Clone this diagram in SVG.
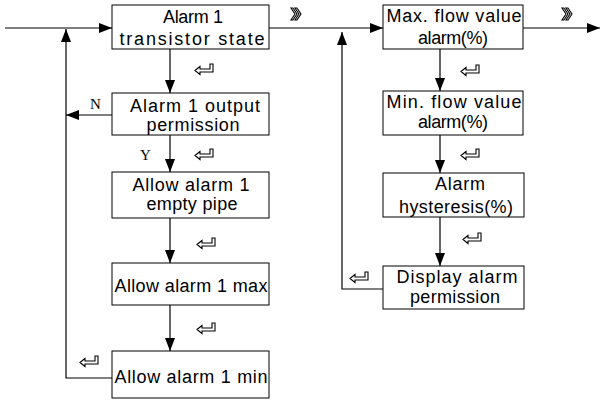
<svg xmlns="http://www.w3.org/2000/svg" width="601" height="400" viewBox="0 0 601 400">
<style>
.box{fill:#fff;stroke:#000;stroke-width:1}
.t{font-family:"Liberation Sans",Arial,sans-serif;font-size:18px;fill:#000;text-anchor:middle}
.yn{font-family:"Liberation Serif","Times New Roman",serif;font-size:15px;fill:#000}
.ln{fill:none;stroke:#000;stroke-width:1.2}
.ic{fill:#fff;stroke:#000;stroke-width:1.1}
</style>
<defs>
<marker id="ah" markerUnits="userSpaceOnUse" markerWidth="14" markerHeight="10" refX="13" refY="5" orient="auto">
<path d="M0,0 L13,5 L0,10 Z" fill="#000"/>
</marker>
<path id="ret" d="M0,6.5 L5,2.5 L5,5 L15,5 L15,0 L18,0 L18,8 L5,8 L5,10.5 Z"/>
<path id="dbl" d="M0,0 L2,0 L6,6 L2,12 L0,12 L4,6 Z M4,0 L6,0 L10,6 L6,12 L4,12 L8,6 Z"/>
</defs>
<g id="connectors">
<path class="ln" d="M5,28 L112,28" marker-end="url(#ah)"/>
<path class="ln" d="M269,28 L383,28" marker-end="url(#ah)"/>
<path class="ln" d="M523,28 L600,28" marker-end="url(#ah)"/>
<path class="ln" d="M170,49 L170,93" marker-end="url(#ah)"/>
<path class="ln" d="M170,135 L170,172" marker-end="url(#ah)"/>
<path class="ln" d="M170,218 L170,263" marker-end="url(#ah)"/>
<path class="ln" d="M170,305 L170,351" marker-end="url(#ah)"/>
<path class="ln" d="M112,115 L66,115" marker-end="url(#ah)"/>
<path class="ln" d="M112,378 L66,378 L66,29" marker-end="url(#ah)"/>
<path class="ln" d="M440,49 L440,91" marker-end="url(#ah)"/>
<path class="ln" d="M440,135 L440,173" marker-end="url(#ah)"/>
<path class="ln" d="M440,217 L440,266" marker-end="url(#ah)"/>
<path class="ln" d="M383,289 L342,289 L342,32" marker-end="url(#ah)"/>
<text class="yn" x="90" y="109">N</text>
<text class="yn" x="140" y="160">Y</text>
<use href="#dbl" class="ic" x="291" y="8"/>
<use href="#dbl" class="ic" x="562" y="8"/>
<use href="#ret" class="ic" x="195" y="64"/>
<use href="#ret" class="ic" x="195" y="149"/>
<use href="#ret" class="ic" x="197" y="238"/>
<use href="#ret" class="ic" x="197" y="323"/>
<use href="#ret" class="ic" x="80" y="356"/>
<use href="#ret" class="ic" x="461" y="65"/>
<use href="#ret" class="ic" x="461" y="149"/>
<use href="#ret" class="ic" x="463" y="233"/>
<use href="#ret" class="ic" x="350" y="272"/>
</g>
<g id="n1"><rect class="box" x="112" y="5" width="157" height="44"/>
<text class="t" x="193" y="23" textLength="60" lengthAdjust="spacing">Alarm 1</text>
<text class="t" x="192" y="45" textLength="145" lengthAdjust="spacing">transistor state</text></g>
<g id="n2"><rect class="box" x="112" y="93" width="157" height="42"/>
<text class="t" x="195" y="112" textLength="130" lengthAdjust="spacing">Alarm 1 output</text>
<text class="t" x="193" y="131" textLength="93" lengthAdjust="spacing">permission</text></g>
<g id="n3"><rect class="box" x="112" y="172" width="157" height="46"/>
<text class="t" x="191" y="191" textLength="117" lengthAdjust="spacing">Allow alarm 1</text>
<text class="t" x="192" y="210" textLength="91" lengthAdjust="spacing">empty pipe</text></g>
<g id="n4"><rect class="box" x="112" y="263" width="157" height="42"/>
<text class="t" x="191" y="292" textLength="153" lengthAdjust="spacing">Allow alarm 1 max</text></g>
<g id="n5"><rect class="box" x="112" y="351" width="157" height="47"/>
<text class="t" x="191" y="383" textLength="153" lengthAdjust="spacing">Allow alarm 1 min</text></g>
<g id="n6"><rect class="box" x="383" y="5" width="140" height="44"/>
<text class="t" x="454" y="22" textLength="135" lengthAdjust="spacing">Max. flow value</text>
<text class="t" x="453" y="44" textLength="70" lengthAdjust="spacing">alarm(%)</text></g>
<g id="n7"><rect class="box" x="383" y="91" width="140" height="44"/>
<text class="t" x="454" y="108" textLength="135" lengthAdjust="spacing">Min. flow value</text>
<text class="t" x="453" y="128" textLength="70" lengthAdjust="spacing">alarm(%)</text></g>
<g id="n8"><rect class="box" x="383" y="173" width="141" height="44"/>
<text class="t" x="460" y="190" textLength="50" lengthAdjust="spacing">Alarm</text>
<text class="t" x="456" y="213" textLength="114" lengthAdjust="spacing">hysteresis(%)</text></g>
<g id="n9"><rect class="box" x="383" y="266" width="141" height="43"/>
<text class="t" x="457" y="283" textLength="121" lengthAdjust="spacing">Display alarm</text>
<text class="t" x="455" y="303" textLength="90" lengthAdjust="spacing">permission</text></g>
</svg>
